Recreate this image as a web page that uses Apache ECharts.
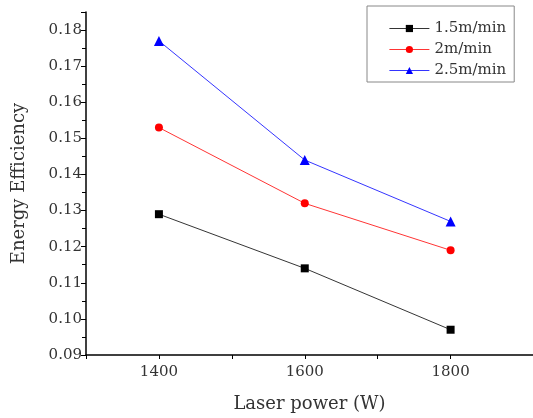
<!DOCTYPE html>
<html>
<head>
<meta charset="utf-8">
<script src="https://cdn.jsdelivr.net/npm/echarts@6/dist/echarts.min.js"></script>
<style>
  html, body { margin: 0; padding: 0; background: #fff; }
  #chart { width: 533px; height: 418px; }
</style>
</head>
<body>
<div id="chart"></div>
<script>
const powers = [1400, 1600, 1800]
const x_ticks = [1300, 1400, 1500, 1600, 1700, 1800]
const x_labels = [1400, 1600, 1800]
const speed_names = ['1.5m/min', '2m/min', '2.5m/min']
const eff_15 = [0.129, 0.114, 0.097]
const eff_20 = [0.153, 0.132, 0.119]
const eff_25 = [0.177, 0.144, 0.127]

const font = 'DejaVu Serif'
const text_color = '#333'

function pairs(values) {
    return powers.map((p, i) => [p, values[i]])
}

const series_styles = [
    { data: eff_15, color: '#000000', symbol: 'rect', size: 8 },
    { data: eff_20, color: '#ff0000', symbol: 'circle', size: 8 },
    { data: eff_25, color: '#0000ff', symbol: 'triangle', size: 10 }
]

const my_chart = echarts.init(document.getElementById('chart'))

const option = {
    animation: false,
    grid: { left: 86, top: 12, right: 0, bottom: 61, containLabel: false },
    legend: {
        top: 6,
        left: 367,
        orient: 'vertical',
        itemWidth: 40,
        itemHeight: 9,
        itemGap: 6,
        padding: [15, 8, 4, 22],
        borderColor: '#888',
        borderWidth: 1,
        lineStyle: { width: 0.8 },
        textStyle: { fontFamily: font, fontSize: 15, color: text_color },
        data: speed_names
    },
    xAxis: {
        type: 'value',
        min: 1300,
        max: 1913,
        interval: 100,
        name: 'Laser power (W)',
        nameLocation: 'middle',
        nameGap: 40,
        nameTextStyle: { fontFamily: font, fontSize: 18, color: text_color },
        axisLine: { lineStyle: { color: '#000', width: 1.5 } },
        axisTick: { show: true, length: 4, customValues: x_ticks, lineStyle: { color: '#000' } },
        splitLine: { show: false },
        axisLabel: {
            fontFamily: font, fontSize: 15, color: text_color, margin: 10,
            customValues: x_labels,
            formatter: v => String(v)
        }
    },
    yAxis: [{
        type: 'value',
        min: 0.09,
        max: 0.185,
        interval: 0.01,
        name: 'Energy Efficiency',
        nameLocation: 'middle',
        nameGap: 58,
        nameTextStyle: { fontFamily: font, fontSize: 18, color: text_color },
        axisLine: { show: true, lineStyle: { color: '#000', width: 1.5 } },
        axisTick: { show: true, length: 5, lineStyle: { color: '#000' } },
        minorTick: { show: true, splitNumber: 2, length: 4, lineStyle: { color: '#000' } },
        splitLine: { show: false },
        axisLabel: {
            fontFamily: font, fontSize: 15, color: text_color, margin: 4,
            showMaxLabel: false,
            formatter: v => v.toFixed(2)
        }
    }, {
        // only for the small tick at the very top of the axis
        type: 'value',
        position: 'left',
        min: 0.09,
        max: 0.185,
        axisLine: { show: false },
        axisTick: { show: true, length: 4, customValues: [0.185], lineStyle: { color: '#000' } },
        axisLabel: { show: false },
        splitLine: { show: false }
    }],
    series: series_styles.map((s, i) => ({
        name: speed_names[i],
        type: 'line',
        data: pairs(s.data),
        symbol: s.symbol,
        symbolSize: s.size,
        itemStyle: { color: s.color },
        lineStyle: { color: s.color, width: 0.8 }
    }))
}

my_chart.setOption(option)
</script>
</body>
</html>
